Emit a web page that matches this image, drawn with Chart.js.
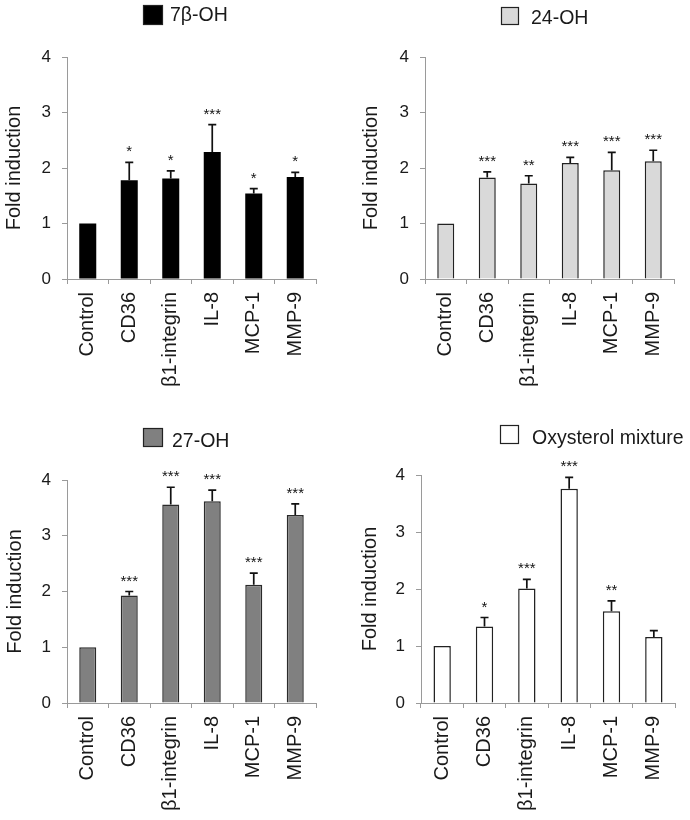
<!DOCTYPE html>
<html>
<head>
<meta charset="utf-8">
<script src="https://cdn.jsdelivr.net/npm/chart.js@4.4.1/dist/chart.umd.min.js"></script>
<style>
  html, body { margin: 0; padding: 0; background: #ffffff; }
  #wrap { position: relative; width: 690px; height: 820px; overflow: hidden; background: #fff; }
  canvas { position: absolute; }
</style>
</head>
<body>
<div id="wrap">
  <canvas id="c1" width="345" height="400" style="left:0;top:0"></canvas>
  <canvas id="c2" width="345" height="400" style="left:345px;top:0"></canvas>
  <canvas id="c3" width="345" height="420" style="left:0;top:400px"></canvas>
  <canvas id="c4" width="345" height="420" style="left:345px;top:400px"></canvas>
</div>
<script>
// ---------- DATA ----------
const categories = ['Control', 'CD36', 'β1-integrin', 'IL-8', 'MCP-1', 'MMP-9'];
const yTicks = [0, 1, 2, 3, 4];
const yTitle = 'Fold induction';

const label7b = '7β-OH';
const values7b = [1, 1.78, 1.81, 2.29, 1.54, 1.84];
const errors7b = [0, 0.32, 0.14, 0.49, 0.09, 0.08];
const stars7b = ['', '*', '*', '***', '*', '*'];

const label24 = '24-OH';
const values24 = [1, 1.83, 1.72, 2.09, 1.96, 2.12];
const errors24 = [0, 0.10, 0.14, 0.10, 0.32, 0.20];
const stars24 = ['', '***', '**', '***', '***', '***'];

const label27 = '27-OH';
const values27 = [1, 1.93, 3.56, 3.62, 2.12, 3.37];
const errors27 = [0, 0.07, 0.31, 0.20, 0.21, 0.20];
const stars27 = ['', '***', '***', '***', '***', '***'];

const labelMix = 'Oxysterol mixture';
const valuesMix = [1, 1.34, 2.01, 3.76, 1.61, 1.16];
const errorsMix = [0, 0.16, 0.16, 0.20, 0.18, 0.11];
const starsMix = ['', '*', '***', '***', '**', ''];

// ---------- RENDER ----------
const FONT = "'Liberation Sans', Arial, sans-serif";
const TEXT = '#1a1a1a';
const AXIS = '#9a9a9a';

const errorBarPlugin = {
  id: 'errorBars',
  afterDatasetsDraw(chart, args, opts) {
    const ctx = chart.ctx;
    const meta = chart.getDatasetMeta(0);
    const ys = chart.scales.y;
    const ds = chart.data.datasets[0];
    ctx.save();
    meta.data.forEach((bar, i) => {
      const v = ds.data[i];
      const e = opts.errors[i] || 0;
      const x = bar.x;
      const yTop = ys.getPixelForValue(v + e);
      const yBar = ys.getPixelForValue(v);
      if (e > 0) {
        ctx.strokeStyle = '#111';
        ctx.lineWidth = 1.7;
        ctx.beginPath();
        ctx.moveTo(x, yBar);
        ctx.lineTo(x, yTop);
        ctx.moveTo(x - 4, yTop);
        ctx.lineTo(x + 4, yTop);
        ctx.stroke();
      }
      const s = opts.stars[i];
      if (s) {
        ctx.fillStyle = '#111';
        ctx.font = '15px ' + FONT;
        ctx.textAlign = 'center';
        ctx.textBaseline = 'alphabetic';
        ctx.fillText(s, x, yTop - 6);
      }
    });
    ctx.restore();
  }
};

const legendPlugin = {
  id: 'customLegend',
  afterDraw(chart, args, opts) {
    const ctx = chart.ctx;
    const ds = chart.data.datasets[0];
    ctx.save();
    ctx.fillStyle = ds.backgroundColor;
    ctx.fillRect(opts.bx, opts.by, opts.bw, opts.bh);
    ctx.strokeStyle = '#222';
    ctx.lineWidth = 1.2;
    ctx.strokeRect(opts.bx + 0.5, opts.by + 0.5, opts.bw - 1, opts.bh - 1);
    ctx.fillStyle = TEXT;
    ctx.font = '19.5px ' + FONT;
    ctx.textAlign = 'left';
    ctx.textBaseline = 'alphabetic';
    ctx.fillText(ds.label, opts.tx, opts.ty);
    ctx.restore();
  }
};

function makeChart(id, cfg) {
  return new Chart(document.getElementById(id), {
    type: 'bar',
    data: {
      labels: categories,
      datasets: [{
        label: cfg.label,
        data: cfg.values,
        backgroundColor: cfg.fill,
        borderColor: cfg.border,
        borderWidth: cfg.borderWidth,
        barPercentage: 0.41,
        categoryPercentage: 1.0
      }]
    },
    options: {
      responsive: false,
      animation: false,
      devicePixelRatio: 1,
      layout: { padding: { top: cfg.top, right: cfg.right, left: 0, bottom: 0 } },
      plugins: {
        legend: { display: false },
        tooltip: { enabled: false },
        errorBars: { errors: cfg.errors, stars: cfg.stars },
        customLegend: cfg.legend
      },
      scales: {
        x: {
          offset: true,
          grid: { display: true, offset: true, drawOnChartArea: false, drawTicks: true, tickLength: 5, color: AXIS, lineWidth: 1 },
          border: { display: true, color: AXIS, width: 1 },
          ticks: { color: TEXT, font: { family: FONT, size: 20 }, maxRotation: 90, minRotation: 90, padding: 8, autoSkip: false },
          afterFit(scale) { scale.height = cfg.xHeight; }
        },
        y: {
          min: 0, max: 4,
          afterBuildTicks(scale) { scale.ticks = yTicks.map(v => ({ value: v })); },
          grid: { display: true, drawOnChartArea: false, drawTicks: true, tickLength: 5, color: AXIS, lineWidth: 1 },
          border: { display: true, color: AXIS, width: 1 },
          ticks: { color: TEXT, font: { family: FONT, size: 17 }, padding: 11 },
          title: { display: true, text: yTitle, color: TEXT, font: { family: FONT, size: 20 }, padding: { top: cfg.titlePad, bottom: 0 } },
          afterFit(scale) { scale.width = cfg.yWidth; }
        }
      }
    },
    plugins: [errorBarPlugin, legendPlugin]
  });
}

makeChart('c1', {
  label: label7b, values: values7b, errors: errors7b, stars: stars7b,
  fill: '#000000', border: '#000000', borderWidth: 0,
  top: 57, right: 29, yWidth: 67, xHeight: 121, titlePad: 2,
  legend: { bx: 143, by: 5, bw: 20, bh: 20, tx: 170, ty: 21 }
});
makeChart('c2', {
  label: label24, values: values24, errors: errors24, stars: stars24,
  fill: '#d9d9d9', border: '#222222', borderWidth: 1.5,
  top: 57, right: 16, yWidth: 80, xHeight: 121, titlePad: 14,
  legend: { bx: 156, by: 7, bw: 18, bh: 18, tx: 186, ty: 23.5 }
});
makeChart('c3', {
  label: label27, values: values27, errors: errors27, stars: stars27,
  fill: '#808080', border: '#2a2a2a', borderWidth: 1.5,
  top: 80, right: 29, yWidth: 67, xHeight: 117, titlePad: 3,
  legend: { bx: 143, by: 28, bw: 20, bh: 19, tx: 172, ty: 47 }
});
makeChart('c4', {
  label: labelMix, values: valuesMix, errors: errorsMix, stars: starsMix,
  fill: '#ffffff', border: '#222222', borderWidth: 1.5,
  top: 75, right: 15, yWidth: 76, xHeight: 117, titlePad: 13,
  legend: { bx: 155, by: 25, bw: 19, bh: 19, tx: 187, ty: 43.5 }
});
</script>
</body>
</html>
